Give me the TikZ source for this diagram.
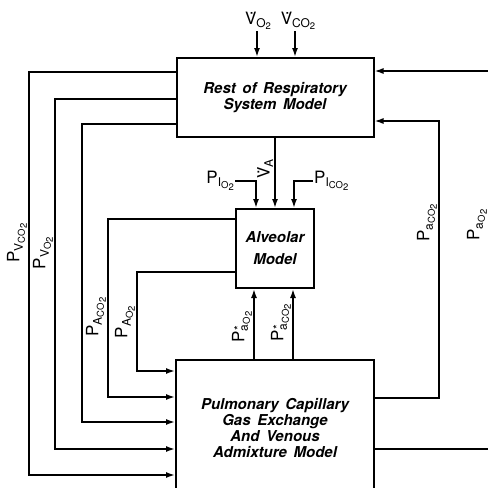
\documentclass[tikz,border=0pt]{standalone}
\usepackage{fontspec}
\setmainfont{TeX Gyre Heros}[WordSpace=1.6]
\usetikzlibrary{arrows.meta,positioning}

\newcommand{\sbs}[1]{\raisebox{-3.5pt}{\fontsize{12}{12}\selectfont #1}}
\newcommand{\ssbs}[1]{\raisebox{-2pt}{\fontsize{9.5}{9.5}\selectfont #1}}
\newcommand{\pgas}[3]{#1\sbs{#2\ssbs{#3\ssbs{2}}}}
\newcommand{\vdt}{V̇}
\newcommand{\astr}{\rlap{\raisebox{5pt}{\kern1pt *}}}

\begin{document}
\begin{tikzpicture}[
    x=1pt, y=-1pt,
    box/.style={rectangle, draw, line width=2pt, align=center, font=\fontsize{15}{16}\selectfont\bfseries\itshape},
    lbl/.style={inner sep=1pt, font=\fontsize{17}{17}\selectfont},
    ln/.style={line width=1.6pt},
    arr/.style={ln, -{Latex[length=9pt,width=6pt]}}
]
    \useasboundingbox (0,0) rectangle (488,488);
    \clip (0,0) rectangle (488,488);

    \node [box, minimum width=197pt, minimum height=79pt] (rest) at (275,97.5) {Rest of Respiratory\\System Model};
    \node [box, minimum width=78pt, minimum height=79pt, below=70pt of rest] (alv) {Alveolar\\[6pt]Model};
    \node [box, minimum width=198pt, minimum height=136pt, below=70pt of alv] (pul) {Pulmonary Capillary\\Gas Exchange\\And Venous\\Admixture Model};

    % inputs on top
    \node [lbl, anchor=south] (vo2) at (258,31) {\vdt\sbs{O\ssbs{2}}};
    \node [lbl, anchor=south] (vco2) at (298,31) {\vdt\sbs{CO\ssbs{2}}};
    \draw [arr] (vo2.south -| 257,0) -- (rest.north -| 257,0);
    \draw [arr] (vco2.south -| 295,0) -- (rest.north -| 295,0);

    % rest -> alveolar
    \draw [arr] (rest.south -| alv.north) -- (alv.north)
        node [lbl, rotate=90, anchor=south, pos=0.44] (va) {\vdt\sbs{A}};
    \coordinate (pio2) at (235,181);
    \coordinate (pico2) at (313,181);
    \node [lbl, left=0pt of pio2] (pio2lbl) {\pgas{P}{I}{O}};
    \node [lbl, right=0pt of pico2] (pico2lbl) {\pgas{P}{I}{CO}};
    \draw [arr] (pio2) -| ([xshift=-19pt]alv.north);
    \draw [arr] (pico2) -| ([xshift=19pt]alv.north);

    % alveolar -> pulmonary
    \draw [arr] (alv.west |- 0,219) -| (108,397) -- (pul.west |- 0,397);
    \draw [arr] (alv.west |- 0,272) -| (137,371) -- (pul.west |- 0,371);
    \node [lbl, rotate=90, anchor=south] (paco2) at (107,317) {\pgas{P}{A}{CO}};
    \node [lbl, rotate=90, anchor=south] (pao2) at (136,322) {\pgas{P}{A}{O}};

    % pulmonary -> alveolar
    \draw [arr] (pul.north -| 254,0) -- (alv.south -| 254,0);
    \draw [arr] (pul.north -| 293,0) -- (alv.south -| 293,0);
    \node [lbl, rotate=90, anchor=south] (pstaro2) at (253,327) {\pgas{P}{\astr a}{O}};
    \node [lbl, rotate=90, anchor=south] (pstarco2) at (292,323) {\pgas{P}{\astr a}{CO}};

    % rest -> pulmonary (venous)
    \draw [arr] (rest.west |- 0,72) -| (29,475) -- (pul.west |- 0,475);
    \draw [arr] (rest.west |- 0,99) -| (55,449) -- (pul.west |- 0,449);
    \draw [arr] (rest.west |- 0,124) -| (82,422) -- (pul.west |- 0,422);
    \node [lbl, rotate=90, anchor=south] (pvco2) at (28,243) {\pgas{P}{V}{CO}};
    \node [lbl, rotate=90, anchor=south] (pvo2) at (54,253) {\pgas{P}{V}{O}};

    % pulmonary -> rest (arterial)
    \draw [arr] (pul.east |- 0,398) -| (439,121) -- (rest.east |- 0,121);
    \draw [arr] (pul.east |- 0,449) -| (498,71) -- (rest.east |- 0,71);
    \node [lbl, rotate=90, anchor=south] (pacco2) at (438,223) {\pgas{P}{a}{CO}};
    \node [lbl, rotate=90, anchor=south] (paao2) at (488,225) {\pgas{P}{a}{O}};
\end{tikzpicture}
\end{document}
